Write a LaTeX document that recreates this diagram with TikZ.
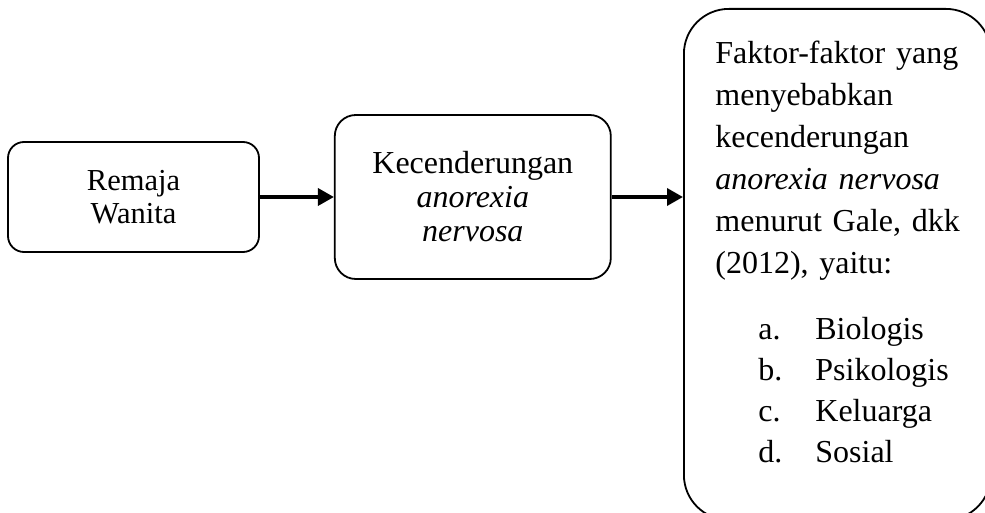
\documentclass[tikz,border=0pt]{standalone}
\usepackage{fontspec}
\setmainfont{Liberation Serif}
\usetikzlibrary{positioning, arrows.meta}

\begin{document}
\begin{tikzpicture}[x=0.5pt,y=-0.5pt,node distance=37pt,
        box/.style={draw,line width=0.9pt,rounded corners=8pt,
                    minimum width=125.5pt,minimum height=55pt,
                    align=center,inner sep=0pt},
        bigbox/.style={draw,line width=0.9pt,rounded corners=22.5pt,
                    minimum width=153.5pt,minimum height=255.5pt,inner sep=0pt},
        txt/.style={text width=135pt,align=left,inner sep=0pt,
                    font=\fontsize{16pt}{21pt}\selectfont},
        arrow/.style={-{Triangle[length=8pt,width=8.5pt]},line width=1.75pt}]
    \useasboundingbox (0,0) rectangle (985,513);
    \clip (0,0) rectangle (985,513);
    \node[box,font=\fontsize{15.25pt}{16.5pt}\selectfont] (remaja) at (133.5,197)
        {Remaja\\Wanita};
    \node[box,right=of remaja,minimum width=138pt,minimum height=82pt,
          rounded corners=10.5pt,font=\fontsize{16pt}{17pt}\selectfont] (kec)
        {Kecenderungan\\\textit{anorexia}\\\textit{nervosa}};
    \node[bigbox,anchor=north west] (faktor) at (683,8) {};
    \node[txt,below right=16.5pt and 16pt of faktor.north west] (isi)
        {Faktor-faktor yang\\
         menyebabkan\\
         kecenderungan\\
         \makebox[121pt][s]{\textit{anorexia} \textit{nervosa}}\\
         menurut Gale, dkk\\
         (2012), yaitu:\\[12pt]
         \hspace*{21.5pt}\makebox[28.5pt][l]{a.}Biologis\\[-0.5pt]
         \hspace*{21.5pt}\makebox[28.5pt][l]{b.}Psikologis\\[-0.5pt]
         \hspace*{21.5pt}\makebox[28.5pt][l]{c.}Keluarga\\[-0.5pt]
         \hspace*{21.5pt}\makebox[28.5pt][l]{d.}Sosial};
    \draw[arrow] (remaja) -- (kec);
    \draw[arrow] (kec.east) -- (kec.east -| faktor.west);
\end{tikzpicture}
\end{document}
